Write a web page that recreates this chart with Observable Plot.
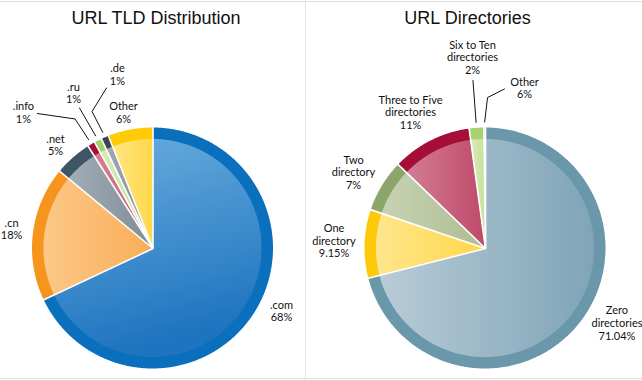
<!DOCTYPE html>
<html><head><meta charset="utf-8">
<script src="https://cdn.jsdelivr.net/npm/d3@7"></script>
<script src="https://cdn.jsdelivr.net/npm/@observablehq/plot@0.6"></script>
<style>
body{margin:0;background:#fff;}
#wrap{position:relative;width:642px;height:380px;overflow:hidden;background:#fff;}
#chart{position:absolute;left:0;top:0;}
.hl{position:absolute;left:0;width:642px;height:1px;background:#dedede;}
.vl{position:absolute;top:0;width:1px;height:380px;background:#e2e2e2;}
</style></head><body>
<div id="wrap"><div class="hl" style="top:1px"></div><div class="hl" style="top:378px"></div><div class="vl" style="left:305px"></div><div id="chart"></div></div>
<script>
// ---- data ----
const charts = ["URL TLD Distribution", "URL Directories"];
const tldNames = [".com", ".cn", ".net", ".info", ".ru", ".de", "Other"];
const tldValues = [68, 18, 5, 1, 1, 1, 6];
const tldPct = ["68%", "18%", "5%", "1%", "1%", "1%", "6%"];
const dirNames = ["Zero\ndirectories", "One\ndirectory", "Two\ndirectory", "Three to Five\ndirectories", "Six to Ten\ndirectories", "Other"];
const dirValues = [71.04, 9.15, 7.0, 10.65, 1.95, 0.21];
const dirPct = ["71.04%", "9.15%", "7%", "11%", "2%", "6%"];

// ---- styles ----
const tldRing = ["#0a6fbd", "#f7941d", "#3e5566", "#a50f35", "#a5d16a", "#3b4853", "#ffcb05"];
const tldGrad = [["#6aaedf", "#1f74bf", 0.25, 1], ["#fcc888", "#f9ad57", 1, 0], ["#a3aeb5", "#7d8c96", 1, 0], ["#da7d92", "#c65870", 1, 0],
                 ["#d8ebbb", "#c3df99", 1, 0], ["#a0a9af", "#7f8b93", 1, 0], ["#ffe680", "#ffd84a", 1, 0]];
const dirRing = ["#6b97ab", "#ffc90b", "#8ca56b", "#a60d37", "#a9d26e", "#8fb3c6"];
const dirGrad = [["#b8ccd7", "#80a4b8", 1, 0], ["#ffe68e", "#ffd747", 1, 0], ["#c7d2b4", "#aebd90", 1, 0], ["#d47c95", "#be4a6a", 1, 0],
                 ["#daebb8", "#c6e19a", 1, 0], ["#c7d8e0", "#a9c3d0", 1, 0]];

// ---- layout (unit = pie radius, relative to pie centre) ----
const R_PX = 120.5, PANEL = 305;
const K = PANEL / 2 / R_PX;
const Y_TOP = 248 / R_PX, Y_BOT = -(380 - 248) / R_PX;
const INNER = 0.905;
const tldLabelAt = [[1.066, -0.519], [-1.174, 0.162], [-0.809, 0.859], [-1.075, 1.129], [-0.660, 1.290], [-0.295, 1.444], [-0.245, 1.129]];
const dirLabelAt = [[1.091, -0.618], [-1.257, 0.066], [-1.095, 0.631], [-0.622, 1.129], [-0.108, 1.589], [0.324, 1.332]];
const tldLeaders = [[3, [[-0.959, 1.120], [-0.647, 1.075]]], [4, [[-0.610, 1.166]]], [5, [[-0.386, 1.332], [-0.506, 1.137]]]];
const dirLeaders = [[4, [[-0.104, 1.394]]], [5, [[0.158, 1.324], [0.017, 1.253]]]];

const wedges = [], inner = [], seps = [], labels = [], leaders = [], grads = [];
function build(ci, names, values, pcts, ring, grad, labelAt, leaderCfg) {
  const chart = charts[ci];
  const total = d3.sum(values);
  let cum = 0;
  const slices = values.map((v, i) => {
    const a0 = cum / total * 2 * Math.PI; cum += v;
    const a1 = cum / total * 2 * Math.PI;
    return {i, a0, a1, mid: (a0 + a1) / 2};
  });
  slices.forEach(s => {
    const n = Math.max(2, Math.ceil((s.a1 - s.a0) / (Math.PI / 360)));
    const id = `g${ci}_${s.i}`;
    grads.push({id, g: grad[s.i]});
    for (let t = 0; t <= n; t++) {
      const a = s.a0 + (s.a1 - s.a0) * t / n;
      wedges.push({chart, key: id, x: Math.sin(a), y: Math.cos(a), fill: ring[s.i]});
      inner.push({chart, key: id, x: INNER * Math.sin(a), y: INNER * Math.cos(a), fill: `url(#${id})`});
    }
    seps.push({chart, x: 1.02 * Math.sin(s.a0), y: 1.02 * Math.cos(s.a0)});
    labels.push({chart, x: labelAt[s.i][0], y: labelAt[s.i][1], text: names[s.i] + "\n" + pcts[s.i]});
  });
  leaderCfg.forEach(([i, pts]) => {
    const key = `l${ci}_${i}`;
    pts.forEach(p => leaders.push({chart, key, x: p[0], y: p[1]}));
    const m = slices[i].mid;
    leaders.push({chart, key, x: 1.05 * Math.sin(m), y: 1.05 * Math.cos(m)});
  });
}
build(0, tldNames, tldValues, tldPct, tldRing, tldGrad, tldLabelAt, tldLeaders);
build(1, dirNames, dirValues, dirPct, dirRing, dirGrad, dirLabelAt, dirLeaders);

const plot = Plot.plot({
  width: 642, height: 380,
  marginTop: 0, marginBottom: 0, marginLeft: 0, marginRight: 4.5,
  fx: {domain: charts, axis: null, paddingInner: 0.0827, paddingOuter: 0, round: false},
  x: {domain: [-K, K], axis: null},
  y: {domain: [Y_BOT, Y_TOP], axis: null},
  color: {type: "identity"},
  style: {background: "transparent", overflow: "visible"},
  marks: [
    Plot.area(wedges, {fx: "chart", x1: "x", y1: "y", x2: () => 0, y2: () => 0, z: "key", fill: "fill", curve: "linear"}),
    Plot.area(inner, {fx: "chart", x1: "x", y1: "y", x2: () => 0, y2: () => 0, z: "key", fill: "fill", curve: "linear"}),
    Plot.link(seps, {fx: "chart", x1: () => 0, y1: () => 0, x2: "x", y2: "y", stroke: "white", strokeWidth: 1.6}),
    Plot.line(leaders, {fx: "chart", x: "x", y: "y", z: "key", stroke: "#111", strokeWidth: 1, curve: "linear"}),
    Plot.text(labels, {fx: "chart", x: "x", y: "y", text: "text", fontSize: 11, fontFamily: "Lato, 'Open Sans', sans-serif", lineHeight: 1.14, lineAnchor: "middle", fill: "#111"}),
    Plot.text([charts[0]], {fx: d => d, text: d => d, frameAnchor: "top", dy: 10.7, dx: 3, fontSize: 18, fontFamily: "'Liberation Sans', Arial, sans-serif", fill: "#111"}),
    Plot.text([charts[1]], {fx: d => d, text: d => d, frameAnchor: "top", dy: 10.7, dx: -18, fontSize: 18, fontFamily: "'Liberation Sans', Arial, sans-serif", fill: "#111"})
  ]
});
const defs = d3.select(plot).insert("defs", ":first-child");
grads.forEach(({id, g}) => {
  const lg = defs.append("linearGradient").attr("id", id).attr("x1", 0).attr("y1", 0).attr("x2", g[2]).attr("y2", g[3]);
  lg.append("stop").attr("offset", "0%").attr("stop-color", g[0]);
  lg.append("stop").attr("offset", "100%").attr("stop-color", g[1]);
});
document.getElementById("chart").appendChild(plot);
</script>
</body></html>
